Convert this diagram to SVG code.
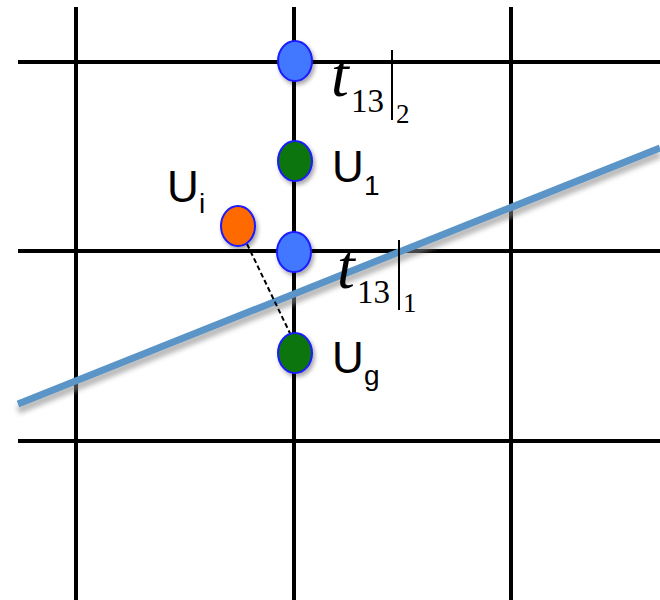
<svg xmlns="http://www.w3.org/2000/svg" width="660" height="600" viewBox="0 0 660 600">
<defs>
<filter id="sh" x="-50%" y="-50%" width="200%" height="200%">
<feDropShadow dx="2" dy="3" stdDeviation="2" flood-color="#000" flood-opacity="0.35"/>
</filter>
<filter id="lsh" x="-10%" y="-50%" width="120%" height="200%">
<feGaussianBlur stdDeviation="2.5"/>
</filter>
</defs>
<style>
.grid{stroke:#000;stroke-width:4;fill:none}
.node{stroke:#1a1aff;stroke-width:2;filter:url(#sh)}
.blue{fill:#4277ff}
.green{fill:#077507}
.orange{fill:#ff6a00}
.lab{font-family:"Liberation Sans",Arial,sans-serif;fill:#000}
.tm{font-family:"Liberation Serif","Times New Roman",serif;fill:#000}
</style>
<g id="grid">
<line class="grid" x1="76" y1="7" x2="76" y2="600"/>
<line class="grid" x1="294" y1="7" x2="294" y2="600"/>
<line class="grid" x1="511" y1="7" x2="511" y2="600"/>
<line class="grid" x1="18" y1="62" x2="660" y2="62"/>
<line class="grid" x1="18" y1="251" x2="660" y2="251"/>
<line class="grid" x1="18" y1="441" x2="660" y2="441"/>
</g>
<g id="boundary">
<line x1="18" y1="410" x2="660" y2="154" stroke="#888" stroke-width="8" opacity="0.6" filter="url(#lsh)"/>
<line x1="18" y1="404" x2="660" y2="148" stroke="#5b95c8" stroke-width="7"/>
</g>
<g id="connectors">
<line x1="247" y1="244" x2="299" y2="352" stroke="#000" stroke-width="2" stroke-dasharray="5,3"/>
</g>
<g id="t13-2">
<ellipse class="node blue" cx="295" cy="61" rx="17" ry="20"/>
<text class="tm" x="331" y="96" font-size="64" font-style="italic">t</text>
<text class="tm" x="351" y="112" font-size="33">13</text>
<line x1="392" y1="50" x2="392" y2="120" stroke="#000" stroke-width="2"/>
<text class="tm" x="396" y="123" font-size="27">2</text>
</g>
<g id="U1">
<ellipse class="node green" cx="295" cy="161" rx="17" ry="20"/>
<text class="lab" x="332" y="182" font-size="44">U</text>
<text class="lab" x="364" y="195" font-size="28">1</text>
</g>
<g id="Ui">
<ellipse class="node orange" cx="238" cy="226" rx="17" ry="20"/>
<text class="lab" x="167" y="202" font-size="44">U</text>
<text class="lab" x="199" y="213" font-size="28">i</text>
</g>
<g id="t13-1">
<ellipse class="node blue" cx="294" cy="252" rx="17" ry="20"/>
<text class="tm" x="337" y="288" font-size="64" font-style="italic">t</text>
<text class="tm" x="357" y="303" font-size="33">13</text>
<line x1="399" y1="240" x2="399" y2="310" stroke="#000" stroke-width="2"/>
<text class="tm" x="403" y="312" font-size="27">1</text>
</g>
<g id="Ug">
<ellipse class="node green" cx="295" cy="353" rx="17" ry="20"/>
<text class="lab" x="332" y="373" font-size="44">U</text>
<text class="lab" x="364" y="385" font-size="28">g</text>
</g>
</svg>
